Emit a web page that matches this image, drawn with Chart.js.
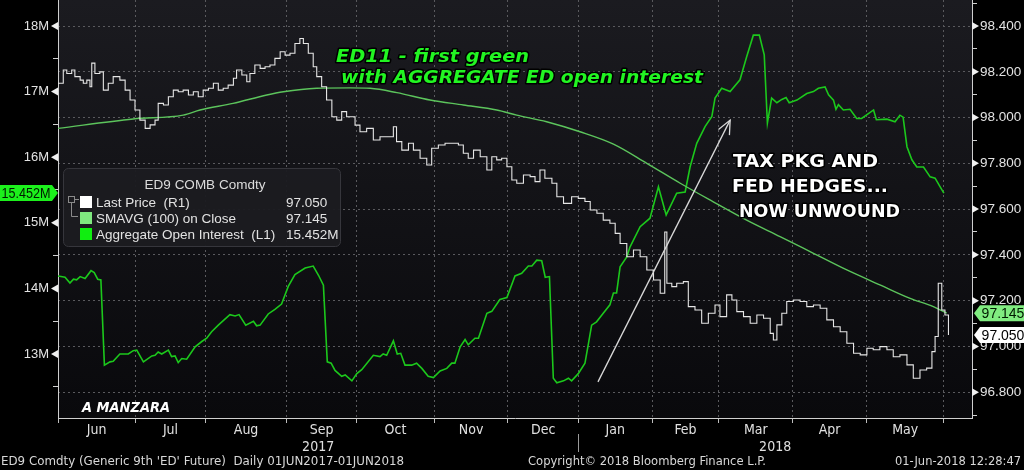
<!DOCTYPE html>
<html><head><meta charset="utf-8">
<script src="https://cdn.jsdelivr.net/npm/chart.js@4.4.1/dist/chart.umd.min.js"></script>
<style>html,body{margin:0;padding:0;background:#000;overflow:hidden}canvas{display:block}</style>
</head><body>
<canvas id="c" width="1024" height="470"></canvas>
<script>
// ---------- DATA ----------
const months = ['Jun','Jul','Aug','Sep','Oct','Nov','Dec','Jan','Feb','Mar','Apr','May'];
const monthStarts = [0,22,42,65,85,107,128,148,169,188,209,230,252]; // trading-day index of each month start
const yearLabels = ['2017','2018'];
const yearSpans = [[0,148],[148,260]];
const dayMax = 260;

const priceDays = [0,1.5,2.5,3.9,4.8,6.3,7.2,8.2,9.1,9.6,10.5,11.9,12.9,14.3,15.7,17.6,19.1,20.5,21.9,23.3,24.8,26.2,27.6,28.5,30,31.4,32.8,34.2,35.6,37.1,38.5,39.9,41.3,42.8,44.2,45.6,47,48.4,49.9,50.8,52.3,53.7,54.6,56,57.5,58.9,60.3,61.7,63.2,64.6,66,67.4,68.8,69.8,71.2,72.6,73.6,75,76.4,77.9,79.3,80.7,82.1,84.5,85.9,87.8,89.7,91.6,93.5,95.4,96.3,97.8,99.7,101.1,103,104.9,106.3,108.2,110.1,112,113.9,115.3,116.7,118.2,120.1,122,123.4,124.8,126.2,127.7,129.1,130.5,132.4,134.3,135.7,137.1,138.5,140.5,141.9,143.8,146.1,148,149.9,151.4,153.3,155.1,157,158.5,159.9,161.8,163.7,165.6,167.5,169.4,171.3,172.6,173.2,174.6,176,177.9,179.3,181.2,183.1,185,186.9,188.3,190.2,191.7,193.1,195,196.9,198.8,200.7,202.6,203.5,204.5,205.9,207.3,209.2,211.1,213,214.9,216.8,218.7,220.6,222.5,224.4,226.3,228.2,230.1,231.9,233.8,235.8,237.6,239.5,241.5,243.3,245.2,247.1,248.6,249.5,250.4,251.4,252.3,253.3];
const priceVals = [98.150,98.208,98.193,98.208,98.179,98.164,98.150,98.164,98.135,98.238,98.193,98.200,98.120,98.150,98.179,98.164,98.120,98.077,98.033,97.989,97.953,97.968,97.989,98.062,98.055,98.091,98.120,98.113,98.120,98.099,98.113,98.091,98.120,98.128,98.150,98.120,98.128,98.142,98.172,98.208,98.186,98.157,98.193,98.230,98.215,98.222,98.230,98.259,98.288,98.273,98.281,98.324,98.346,98.324,98.281,98.222,98.179,98.135,98.077,98.004,97.989,98.026,98.004,97.967,97.938,97.953,97.902,97.916,97.916,97.960,97.895,97.858,97.888,97.858,97.822,97.793,97.866,97.880,97.888,97.888,97.880,97.844,97.822,97.858,97.829,97.771,97.829,97.815,97.822,97.785,97.727,97.713,97.749,97.742,97.720,97.771,97.735,97.713,97.654,97.625,97.654,97.647,97.633,97.596,97.582,97.552,97.538,97.494,97.450,97.392,97.421,97.392,97.334,97.290,97.232,97.500,97.276,97.261,97.276,97.283,97.174,97.159,97.101,97.145,97.181,97.130,97.225,97.203,97.152,97.130,97.101,97.137,97.123,97.057,97.028,97.094,97.145,97.196,97.203,97.196,97.174,97.181,97.167,97.116,97.086,97.064,97.014,96.970,96.963,96.992,96.985,96.999,96.985,96.955,96.963,96.919,96.861,96.897,96.905,96.977,97.043,97.276,97.159,97.137,97.050];

const smaDays = [0,21.4,35.6,40.4,49.8,59.4,64.1,73.6,83.1,88.8,96.4,105.8,115.3,124.8,130.5,139,148.5,158,167.5,177,186.4,195.9,205.4,214.9,224.4,233.8,242.4,249,252.8];
const smaVals = [97.953,97.994,98.011,98.033,98.062,98.099,98.113,98.128,98.130,98.128,98.109,98.077,98.055,98.033,98.011,97.982,97.938,97.884,97.800,97.713,97.632,97.552,97.480,97.407,97.334,97.269,97.210,97.174,97.145];

const oiDays = [0,2,3.4,4.4,5.3,6.3,7.7,9.4,10.3,11.3,12.2,13.2,14.8,15.7,17.6,20,21.4,22.4,24.3,26.7,27.6,28.5,29.5,31.4,32.3,33.3,34.2,35.2,36.6,39,40.9,42.3,43.7,45.6,48.9,50.4,51.5,53.4,55.6,56.5,57.5,59.8,61.7,63.6,65.5,67.4,70.3,72.6,74.1,75.5,76.6,77.7,78.8,80.7,81.7,83.6,85,86.4,89.7,91.6,92.5,93.5,95.4,96.5,97.5,98.7,100.6,102,103.5,105.3,106.8,108.7,110.6,112,112.9,114.4,115.8,116.7,118.6,119.6,122,123.4,125.7,127.7,130,131.9,133.8,134.8,136.2,137.6,138.6,139.8,140.9,141.9,143.8,145.2,146.1,148,149.9,150.9,151.8,153.2,155.1,157,158,158.9,159.9,161.8,162.7,165.6,168.4,170.8,173,176,178.4,179.8,181.7,184.1,186,186.9,188.8,191.2,194,195.9,197.8,199.5,200.9,201.8,203,204.5,205.9,207.1,208,210.2,213,214.9,216.3,218.2,219.2,220.6,221.3,222,223.4,225.3,227.2,228.6,232,232.8,235.8,238.1,239.5,240.4,241.5,242.9,244.3,246.2,248.1,249.5,250.9,252];
const oiVals = [14.19,14.17,14.08,14.14,14.13,14.18,14.15,14.27,14.24,14.14,14.13,12.83,12.88,12.89,13.00,13.00,13.05,13.06,12.88,12.97,12.98,13.03,13.00,13.06,12.96,12.97,12.87,12.93,12.92,13.11,13.19,13.24,13.34,13.44,13.60,13.58,13.60,13.44,13.50,13.43,13.44,13.61,13.68,13.76,14.03,14.21,14.31,14.34,14.20,14.05,12.88,12.86,12.75,12.66,12.68,12.59,12.70,12.76,12.98,12.96,13.00,12.98,13.20,13.00,13.01,12.83,12.83,12.86,12.78,12.66,12.64,12.74,12.78,12.86,12.86,13.11,13.22,13.14,13.24,13.24,13.62,13.65,13.83,13.86,14.19,14.23,14.34,14.34,14.43,14.42,14.17,14.18,12.63,12.56,12.59,12.63,12.59,12.70,12.86,13.16,13.44,13.49,13.62,13.75,13.93,13.93,14.33,14.48,14.63,14.94,15.07,15.55,15.12,15.45,15.47,15.85,16.21,16.47,16.62,16.90,17.05,17.00,17.18,17.53,17.86,17.86,17.56,16.52,16.90,16.83,16.88,16.91,16.83,16.87,16.97,17.00,17.05,17.07,16.95,16.87,16.73,16.80,16.72,16.73,16.59,16.59,16.72,16.57,16.58,16.54,16.64,16.61,16.16,15.96,15.85,15.85,15.70,15.68,15.55,15.452];

const lastPrice = 97.050, lastSma = 97.145, lastOi = 15.452;
const legendTitle = 'ED9 COMB Comdty';
const legendNames = ['Last Price  (R1)','SMAVG (100) on Close','Aggregate Open Interest  (L1)'];
const legendValues = ['97.050','97.145','15.452M'];
const arrowFrom = [153.6, 96.845], arrowTo = [191.2, 97.989];

// ---------- CHART ----------
const GRID = '#5a5a5e';
const NARROW = '"Liberation Sans Narrow","DejaVu Sans Condensed","Roboto Condensed","Liberation Sans",sans-serif';
Chart.defaults.font.family = '"Liberation Sans",Arial,sans-serif';
const pts = (d,v)=>d.map((x,i)=>({x:x,y:v[i]}));
const noPad = s=>{ s.paddingTop=0; s.paddingBottom=0; s.paddingLeft=0; s.paddingRight=0; };

function fitText(ctx, text, x, y, w, font, align){
  ctx.font = font;
  const m = ctx.measureText(text).width;
  const s = w/m;
  ctx.save();
  ctx.translate(x, y);
  ctx.scale(s, 1);
  ctx.textAlign = align || 'left';
  ctx.fillText(text, 0, 0);
  ctx.restore();
}
function tag(ctx, x, y, w, h, fill, text, dir, font, tcol){
  ctx.save();
  ctx.fillStyle = fill;
  ctx.beginPath();
  if(dir==='right'){
    ctx.moveTo(x, y-h/2); ctx.lineTo(x+w-6, y-h/2); ctx.lineTo(x+w, y); ctx.lineTo(x+w-6, y+h/2); ctx.lineTo(x, y+h/2);
  } else {
    ctx.moveTo(x+w, y-h/2); ctx.lineTo(x+6, y-h/2); ctx.lineTo(x, y); ctx.lineTo(x+6, y+h/2); ctx.lineTo(x+w, y+h/2);
  }
  ctx.closePath(); ctx.fill();
  ctx.fillStyle = tcol || '#000';
  ctx.textBaseline='middle';
  const cx = dir==='right'? x+(w-6)/2 : x+6+(w-6)/2;
  ctx.font = font;
  const m = ctx.measureText(text).width, maxW = w-9;
  ctx.save(); ctx.translate(cx, y+1);
  if (m > maxW) ctx.scale(maxW/m, 1);
  ctx.textAlign = 'center'; ctx.fillText(text, 0, 0);
  ctx.restore();
  ctx.restore();
}

const deco = {
  id:'deco',
  beforeDraw(chart){
    const {ctx, chartArea:a} = chart;
    ctx.save();
    ctx.fillStyle = '#000'; ctx.fillRect(0,0,chart.width,chart.height);
    const g = ctx.createLinearGradient(0,a.top,0,a.bottom);
    g.addColorStop(0,'#1b1b20'); g.addColorStop(1,'#09090c');
    ctx.fillStyle = g; ctx.fillRect(a.left,a.top,a.right-a.left,a.bottom-a.top);
    ctx.restore();
  },
  afterDraw(chart){
    const {ctx, chartArea:a, scales} = chart;
    const xs = scales.x, yl = scales.yL, yr = scales.yR;
    ctx.save();
    // axis triangles
    ctx.fillStyle = '#f0f0f0';
    [13,14,15,16,17,18].forEach(v=>{
      const y = yl.getPixelForValue(v);
      ctx.beginPath(); ctx.moveTo(a.left,y-4); ctx.lineTo(a.left-7,y); ctx.lineTo(a.left,y+4); ctx.closePath(); ctx.fill();
    });
    for(let k=968;k<=984;k+=2){
      const y = yr.getPixelForValue(k/10);
      ctx.beginPath(); ctx.moveTo(a.right,y-4); ctx.lineTo(a.right+7,y); ctx.lineTo(a.right,y+4); ctx.closePath(); ctx.fill();
    }
    // month labels
    ctx.fillStyle = '#e0e0e0'; ctx.textBaseline='middle'; ctx.textAlign='center';
    ctx.font = '14px '+NARROW;
    months.forEach((m,i)=>{
      const x = xs.getPixelForValue((monthStarts[i]+monthStarts[i+1])/2);
      ctx.fillText(m, x, 430);
    });
    yearLabels.forEach((l,i)=>{
      const x = xs.getPixelForValue((yearSpans[i][0]+yearSpans[i][1])/2);
      ctx.fillText(l, x, 447);
    });
    // year separator
    ctx.strokeStyle = '#9a9a9a'; ctx.lineWidth = 1;
    const sx = Math.round(xs.getPixelForValue(yearSpans[1][0]))+0.5;
    ctx.beginPath(); ctx.moveTo(sx, 434); ctx.lineTo(sx, 452); ctx.stroke();
    // footer
    ctx.fillStyle = '#d8d8d8'; ctx.textBaseline='middle';
    fitText(ctx, "ED9 Comdty (Generic 9th 'ED' Future)  Daily 01JUN2017-01JUN2018", 1, 462, 403, '13px '+NARROW, 'left');
    fitText(ctx, "Copyright\u00A9 2018 Bloomberg Finance L.P.", 528, 462, 238, '13px '+NARROW, 'left');
    fitText(ctx, "01-Jun-2018 12:28:47", 1021, 462, 126, '13px '+NARROW, 'right');

    ctx.save();
    ctx.beginPath(); ctx.rect(a.left, a.top, a.right-a.left, a.bottom-a.top); ctx.clip();
    // arrow
    const x1 = xs.getPixelForValue(arrowFrom[0]), y1 = yr.getPixelForValue(arrowFrom[1]);
    const x2 = xs.getPixelForValue(arrowTo[0]), y2 = yr.getPixelForValue(arrowTo[1]);
    ctx.strokeStyle = '#d8d8d8'; ctx.lineWidth = 1.3;
    ctx.beginPath(); ctx.moveTo(x1,y1); ctx.lineTo(x2,y2); ctx.stroke();
    const ang = Math.atan2(y1-y2, x1-x2);
    ctx.beginPath();
    ctx.moveTo(x2 + 15*Math.cos(ang-0.42), y2 + 15*Math.sin(ang-0.42)); ctx.lineTo(x2,y2);
    ctx.lineTo(x2 + 15*Math.cos(ang+0.42), y2 + 15*Math.sin(ang+0.42)); ctx.stroke();

    ctx.textBaseline = 'middle';
    ctx.lineJoin = 'round';
    const annG = (t,x,y,w)=>{
      ctx.font = 'italic bold 18px "DejaVu Sans",sans-serif';
      const m = ctx.measureText(t).width;
      ctx.save(); ctx.translate(x,y); ctx.scale(w/m,1);
      ctx.strokeStyle = '#000'; ctx.lineWidth = 3; ctx.textAlign='left';
      ctx.strokeText(t,0,0);
      ctx.fillStyle = '#22f522'; ctx.fillText(t,0,0);
      ctx.restore();
    };
    annG('ED11 - first green', 336, 57, 193);
    annG('with AGGREGATE ED open interest', 341, 78, 362);
    const annW = (t,x,y,w)=>{
      ctx.font = 'bold 18px "DejaVu Sans",sans-serif';
      const m = ctx.measureText(t).width;
      ctx.save(); ctx.translate(x,y); ctx.scale(w/m,1);
      ctx.strokeStyle = '#000'; ctx.lineWidth = 3; ctx.textAlign='left';
      ctx.strokeText(t,0,0);
      ctx.fillStyle = '#ffffff'; ctx.fillText(t,0,0);
      ctx.restore();
    };
    annW('TAX PKG AND', 733, 162, 145);
    annW('FED HEDGES...', 732, 187, 156);
    annW('NOW UNWOUND', 739, 212, 161);
    ctx.font = 'italic bold 14px "DejaVu Sans",sans-serif';
    const mw = ctx.measureText('A MANZARA').width;
    ctx.save(); ctx.translate(82,408); ctx.scale(88/mw,1);
    ctx.fillStyle='#ffffff'; ctx.textAlign='left'; ctx.fillText('A MANZARA',0,0); ctx.restore();
    ctx.restore();

    // legend box
    ctx.save();
    ctx.fillStyle = 'rgba(28,28,32,0.96)'; ctx.strokeStyle = '#36363c'; ctx.lineWidth = 1;
    ctx.beginPath();
    if (ctx.roundRect) ctx.roundRect(63.5,168.5,277,78,5); else ctx.rect(63.5,168.5,277,78);
    ctx.fill(); ctx.stroke();
    ctx.fillStyle = '#dcdcdc'; ctx.textBaseline='middle'; ctx.textAlign='center';
    ctx.font = '13.5px "Liberation Sans",Arial,sans-serif';
    ctx.fillText(legendTitle, 205, 185);
    const cols = ['#ffffff','#7fe87f','#10ee10'];
    const rowsY = [202,218,234];
    ctx.textAlign='left';
    legendNames.forEach((n,i)=>{
      ctx.fillStyle = cols[i]; ctx.fillRect(80, rowsY[i]-6, 12, 12);
      ctx.fillStyle = '#e2e2e2';
      ctx.fillText(n, 96, rowsY[i]+1);
      ctx.fillText(legendValues[i], 286, rowsY[i]+1);
    });
    ctx.strokeStyle = '#8a8a8a'; ctx.lineWidth=1;
    ctx.strokeRect(68.5,196.5,6,6);
    ctx.beginPath(); ctx.moveTo(71.5,203); ctx.lineTo(71.5,216.5); ctx.lineTo(78,216.5); ctx.stroke();
    ctx.beginPath(); ctx.moveTo(75,199.5); ctx.lineTo(79,199.5); ctx.stroke();
    ctx.restore();

    // value tags
    tag(ctx, 0, yl.getPixelForValue(lastOi), 58, 16, '#1cf01c', lastOi.toFixed(3)+'M', 'right', '14px "Liberation Sans",Arial,sans-serif', '#001a00');
    tag(ctx, a.right+2, yr.getPixelForValue(lastSma), 52, 16, '#80ec80', lastSma.toFixed(3), 'left', '14px "Liberation Sans",Arial,sans-serif', '#001a00');
    tag(ctx, a.right+2, yr.getPixelForValue(lastPrice), 52, 16, '#ffffff', lastPrice.toFixed(3), 'left', '14px "Liberation Sans",Arial,sans-serif', '#000');
    ctx.restore();
  }
};

new Chart(document.getElementById('c').getContext('2d'), {
  type:'line',
  data:{datasets:[
    {label:legendNames[0], data:pts(priceDays,priceVals), yAxisID:'yR', borderColor:'#e6e6e6', borderWidth:1.1, pointRadius:0, stepped:true, order:1},
    {label:legendNames[1], data:pts(smaDays,smaVals), yAxisID:'yR', borderColor:'#5cc45c', borderWidth:1.4, pointRadius:0, cubicInterpolationMode:'monotone', order:2},
    {label:legendNames[2], data:pts(oiDays,oiVals), yAxisID:'yL', borderColor:'#1cc81c', borderWidth:1.6, pointRadius:0, order:3}
  ]},
  options:{
    responsive:false, animation:false, events:[],
    layout:{padding:0},
    plugins:{legend:{display:false}, tooltip:{enabled:false}},
    scales:{
      x:{type:'linear', position:'bottom', min:0, max:dayMax,
        afterBuildTicks:s=>{s.ticks = monthStarts.map(v=>({value:v}));},
        afterFit:s=>{s.height = 52; noPad(s);},
        ticks:{callback:()=>'', autoSkip:false, maxRotation:0},
        grid:{color:c=>c.index===0?'rgba(0,0,0,0)':GRID, lineWidth:1, drawTicks:true, tickLength:5, tickColor:'#bdbdbd', tickBorderDash:[]},
        border:{display:true, color:'#cfcfcf', width:1, dash:[2,3]}
      },
      yL:{type:'linear', position:'left', min:12.024, max:18.396,
        afterBuildTicks:s=>{const t=[]; for(let k=25;k<=36;k++) t.push({value:k/2}); s.ticks=t;},
        afterFit:s=>{s.width = 58; noPad(s);},
        ticks:{callback:v=>Number.isInteger(v)? v+'M' : '', color:'#e2e2e2', font:{size:13}, padding:4, autoSkip:false},
        grid:{drawOnChartArea:false, drawTicks:true, tickLength:5, tickColor:'#d0d0d0'},
        border:{display:true, color:'#cfcfcf', width:1}
      },
      yR:{type:'linear', position:'right', min:96.687, max:98.514,
        afterBuildTicks:s=>{const t=[]; for(let k=967;k<=985;k++) t.push({value:k/10}); s.ticks=t;},
        afterFit:s=>{s.width = 52; noPad(s);},
        ticks:{callback:v=>Math.round(v*10)%2===0? v.toFixed(3) : '', color:'#e2e2e2', font:{size:13.5}, padding:3, autoSkip:false},
        grid:{color:c=>(c.tick && Math.round(c.tick.value*10)%2===0)? GRID : 'rgba(0,0,0,0)', drawTicks:true, tickLength:5, tickColor:'#d0d0d0', tickBorderDash:[]},
        border:{display:true, color:'#cfcfcf', width:1, dash:[2,3]}
      }
    }
  },
  plugins:[deco]
});
</script>
</body></html>
